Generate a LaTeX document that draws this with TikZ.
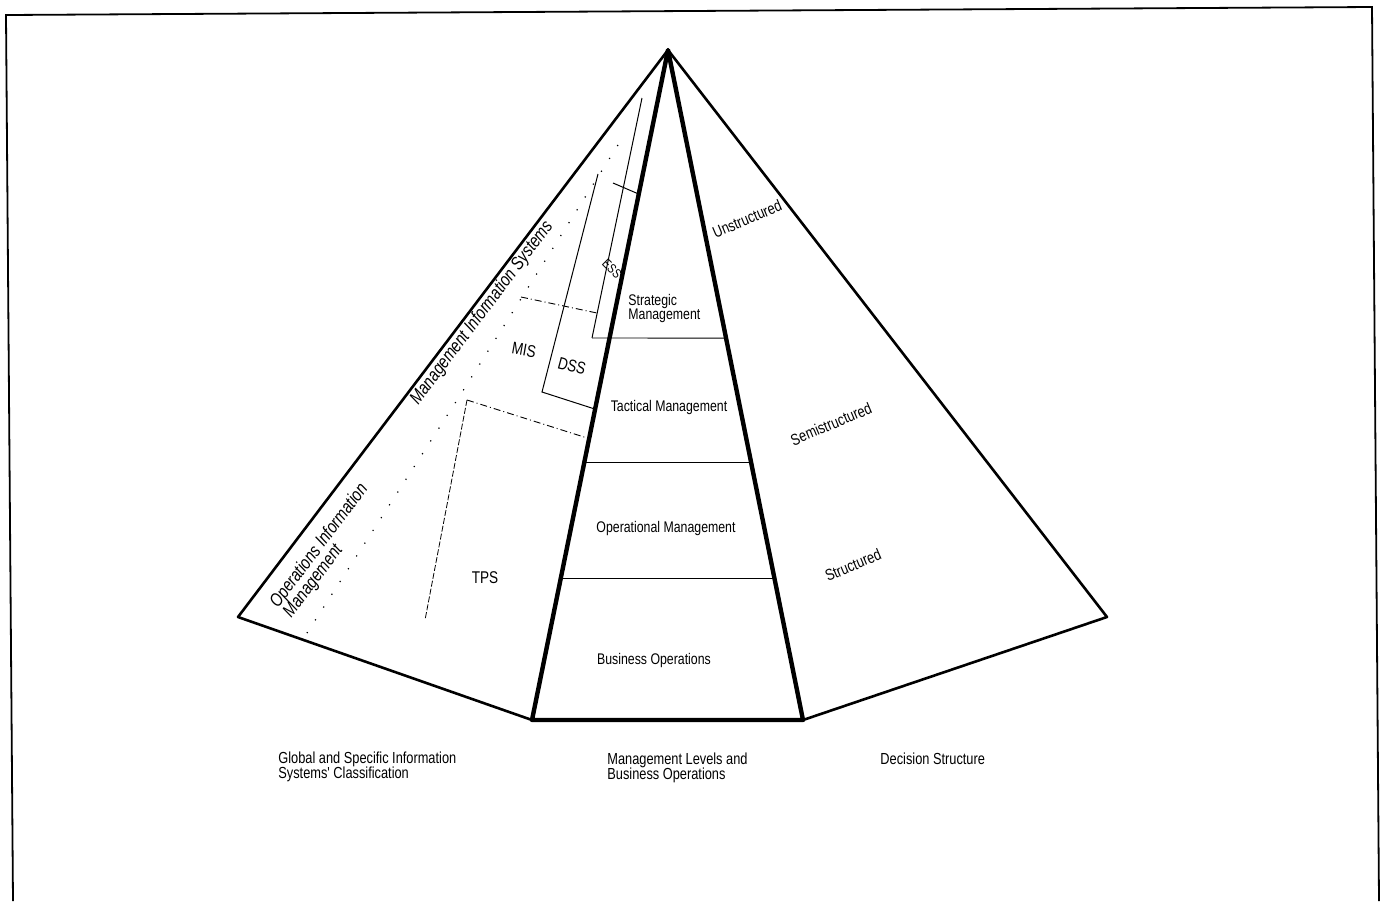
\documentclass[tikz,border=0pt]{standalone}
\usepackage{fontspec}
\newfontfamily\plotfont[FakeStretch=0.8,ItalicFont={Liberation Sans Italic}]{Liberation Sans}
\usetikzlibrary{calc}

\begin{document}
\begin{tikzpicture}[x=0.5pt,y=-0.5pt,
    edge/.style={line width=1.3pt,line join=round},
    axis/.style={line width=2.2pt,line join=round},
    level/.style={line width=0.45pt},
    sysline/.style={line width=0.5pt},
    dashdot/.style={line width=0.45pt,dash pattern=on 3.5pt off 1.5pt on 0.5pt off 1.5pt},
    sparse/.style={line width=0.6pt,dash pattern=on 0.6pt off 7pt},
    levelname/.style={font={\plotfont\fontsize{7.7}{7}\selectfont},align=left,inner sep=0pt},
    sysname/.style={font={\plotfont\fontsize{8.5}{8}\selectfont},inner sep=0pt},
    facename/.style={font={\plotfont\itshape\fontsize{9.2}{8.3}\selectfont},rotate=53,align=left,inner sep=0pt},
    decision/.style={font={\plotfont\fontsize{8}{8}\selectfont},rotate=23,inner sep=0pt},
    caption/.style={font={\plotfont\fontsize{8}{7.5}\selectfont},align=left,anchor=west,inner sep=0pt}]
    \useasboundingbox (0,0) rectangle (1381,901);
    % frame
    \draw[line width=0.9pt] (13,901) -- (6,15) -- (1372,7) -- (1379,901);
    % pyramid
    \coordinate (apex) at (668,50);
    \coordinate (lc) at (238,617);
    \coordinate (bl) at (532,720);
    \coordinate (br) at (803,720);
    \coordinate (rc) at (1107,617);
    \draw[edge] (bl) -- (lc) -- (apex) -- (rc) -- (br);
    \draw[axis] (apex) -- (bl) -- (br) -- cycle;
    % management levels
    \coordinate (esstop) at (642,98);
    \coordinate (essbot) at (592,338);
    \draw[level] (essbot) -- ($(apex)!0.43!(br)$);
    \draw[level] ($(apex)!0.615!(bl)$) -- ($(apex)!0.615!(br)$);
    \draw[level] ($(apex)!0.788!(bl)$) -- ($(apex)!0.788!(br)$);
    % system regions
    \draw[sysline] (esstop) -- (essbot);
    \draw[sysline] (613,183) -- ($(apex)!0.215!(bl)$);
    \coordinate (dsstop) at (598,174);
    \coordinate (dsscorner) at (542,392);
    \draw[sysline] (dsstop) -- (dsscorner) -- ($(apex)!0.536!(bl)$);
    \coordinate (opstop) at (618,145);
    \coordinate (opsbend) at (459,397);
    \draw[sparse] (opstop) -- (opsbend) -- ($(lc)!0.22!(bl)$);
    \draw[dashdot] (521,297) -- (597,313);
    \coordinate (tpscorner) at (467,400);
    \draw[dashdot] (tpscorner) -- ($(apex)!0.58!(bl)$);
    \draw[line width=0.4pt,dash pattern=on 3pt off 1pt] (tpscorner) -- (425,620);
    % labels
    \node[levelname,anchor=west] (strategic) at (628,309) {Strategic\\Management};
    \node[levelname] (tactical) at (669,408) {Tactical Management};
    \node[levelname] (operational) at (666,529) {Operational Management};
    \node[levelname] (business) at (654,661) {Business Operations};
    \node[decision] (unstructured) at (747,219) {Unstructured};
    \node[decision] (semistructured) at (831,424) {Semistructured};
    \node[decision] (structured) at (853,565) {Structured};
    \node[facename] (misedge) at (482,313) {Management Information Systems};
    \node[facename] (opsedge) at (326,551) {Operations Information\\Management};
    \node[sysname,rotate=-10] (mis) at (524,350) {MIS};
    \node[sysname,rotate=-15] (dss) at (572,366) {DSS};
    \node[sysname] (tps) at (485,578) {TPS};
    \node[sysname,rotate=-45,font={\plotfont\fontsize{6.5}{7}\selectfont}] (ess) at (612,269) {ESS};
    \node[caption] (globalcap) at (278,767) {Global and Specific Information\\Systems' Classification};
    \node[caption] (levelcap) at (607,768) {Management Levels and\\Business Operations};
    \node[caption] (decisioncap) at (880,759) {Decision Structure};
\end{tikzpicture}
\end{document}
